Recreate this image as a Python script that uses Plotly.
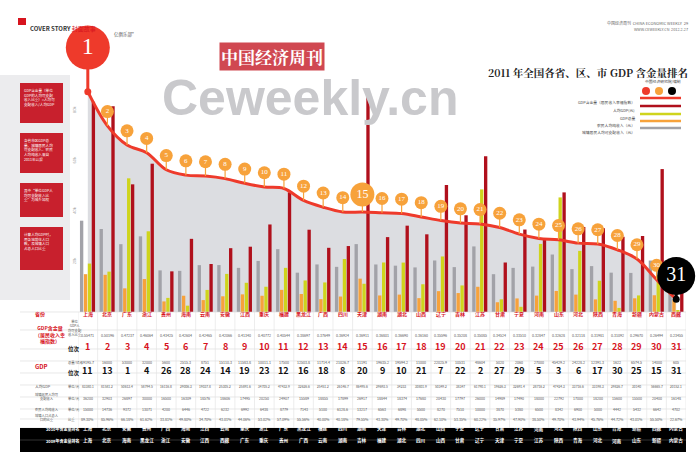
import plotly.graph_objects as go

provinces = ["上海","北京","广东","浙江","贵州","海南","云南","安徽","江西","重庆","福建","黑龙江","广西","四川","天津","湖南","湖北","山西","辽宁","吉林","江苏","甘肃","宁夏","河南","山东","河北","陕西","青海","新疆","内蒙古","西藏"]
index_vals = [0.55471,0.50196,0.47237,0.46064,0.43425,0.42604,0.42465,0.42066,0.41340,0.40772,0.40544,0.38697,0.37649,0.36924,0.36911,0.36801,0.36690,0.36160,0.35596,0.35208,0.35085,0.34524,0.33510,0.32847,0.32628,0.32118,0.31981,0.31092,0.29670,0.26494,0.23455]
gdp_total = [19195.7,16000,53000,32000,5600,2515.3,8751,15110.3,11583.8,10011.1,17500,12503.8,11714.4,21026.7,11191,19635.2,19594.2,11000,22025.9,10531,48604,5020,2060,27000,45429.2,24228.2,12391.3,1622,6574.5,14000,605]
gdp_rank = [11,13,1,4,26,28,24,14,19,23,12,16,18,8,20,9,10,21,7,22,2,27,29,5,3,6,17,30,25,15,31]
gdp_pc = [83380.1,81581.17,50613.43,58794.47,16116.75,29006.34,19037.76,25305.24,25891.6,34705.23,47432.91,32626.56,25451.24,26146.69,86495.57,29693.54,34232.96,30801.88,50349.15,38347,61790.06,19626.35,32691.41,28716.2,47424.31,33716.56,33198.28,29826.73,30140.01,56665.66,20152.12]
urban_inc = [36200,32903,26897,30000,16500,16309,18576,18606,17495,20250,24907,15589,18855,17899,26917,18844,18374,17680,20430,17797,26000,14989,17490,18000,22792,17000,18200,15600,15500,20400,16148]
rural_inc = [15000,14736,9372,13071,4200,6446,4722,6232,6992,6438,8779,7143,5100,6128.6,13217,6563,6898,5500,8270,7510,10000,3870,5380,6500,8342,6900,5000,4442,5432,6642,4702]
urban_ratio = ["89.30%","85.96%","66.18%","61.62%","33.81%","49.80%","34.70%","43.01%","44.06%","53.02%","57.09%","55.56%","40.00%","40.18%","79.55%","43.30%","49.70%","48.05%","62.10%","53.35%","60.22%","35.97%","47.90%","38.50%","49.70%","43.94%","45.76%","44.72%","43.01%","55.50%","22.67%"]
rank_2010 = ["上海","北京","安徽","贵州","广西","海南","江西","云南","重庆","浙江","广东","黑龙江","福建","四川","湖南","天津","吉林","湖北","山西","宁夏","辽宁","甘肃","江苏","河南","河北","陕西","山东","青海","新疆","西藏","内蒙古"]
rank_2009 = ["上海","北京","海南","黑龙江","浙江","安徽","江西","西藏","广东","重庆","贵州","广西","云南","湖南","吉林","福建","湖北","四川","山西","甘肃","辽宁","天津","宁夏","江苏","陕西","青海","河北","河南","山东","新疆","内蒙古"]
y_ticks = [20000, 40000, 60000, 80000]

W, H = 700, 455
F = "Noto Sans CJK SC"
def py(p):
    return 1 - p / H
def px(p):
    return p / W

n = len(provinces)
xs = list(range(n))
RED, ORANGE, GREEN, GRAY, LINE = "#b0101c", "#f7a23b", "#cfd41c", "#a2a2a8", "#ee3a2b"
# all overlaid axes share domain 10..312 px; ranges scaled so bars reach 85 px at 90000
IDX_RANGE = [0.215, 0.215 + 302 * 0.35 / 227]
BAR_RANGE = [0, 90000 * 302 / 227]

fig = go.Figure()
fig.add_trace(go.Scatter(x=xs, y=index_vals, yaxis="y", mode="lines", line=dict(width=0, shape="spline"),
                         fill="tozeroy", fillcolor="#dcdde1", hoverinfo="skip"))
w = 0.17
for vals, col, off in [(urban_inc, GRAY, -0.40), (rural_inc, ORANGE, -0.20), (gdp_total, GREEN, 0.0), (gdp_pc, RED, 0.20)]:
    fig.add_trace(go.Bar(x=xs, y=vals, marker=dict(color=col, line=dict(width=0)), width=w, offset=off, yaxis="y2"))
fig.add_trace(go.Scatter(x=xs, y=index_vals, yaxis="y3", mode="lines", line=dict(color=LINE, width=3, shape="spline")))

ranks = list(range(1, n + 1))
pin_col = [LINE if r == 1 else ("black" if r == n else ORANGE) for r in ranks]
pin_size = [44 if r == 1 else (38 if r == n else (24 if r == 15 else 13)) for r in ranks]
pin_shift = [0.068 if r == 1 else (0.036 if r == n else (0.027 if r == 15 else 0.022)) for r in ranks]
pin_font = [24 if r == 1 else (20 if r == n else (12 if r == 15 else 7)) for r in ranks]
pin_y = [v + s for v, s in zip(index_vals, pin_shift)]
for i in xs:
    fig.add_trace(go.Scatter(x=[i, i], y=[index_vals[i], pin_y[i]], yaxis="y3", mode="lines",
                             line=dict(color=pin_col[i], width=3 if i in (0, n - 1) else 1.2), cliponaxis=False, hoverinfo="skip"))
fig.add_trace(go.Scatter(x=xs, y=pin_y, yaxis="y3", mode="markers+text", cliponaxis=False,
                         marker=dict(color=pin_col, size=pin_size, opacity=1, line=dict(width=0)),
                         text=[str(r) for r in ranks], textposition="middle center",
                         textfont=dict(color="white", size=pin_font, family="Arial Black")))
fig.add_trace(go.Scatter(x=[0, n - 1], y=[index_vals[0], index_vals[-1]], yaxis="y3", mode="markers", cliponaxis=False,
                         marker=dict(color=[LINE, "black"], size=7)))

ann = []
shapes = []
shapes.append(dict(type="rect", xref="paper", yref="paper", x0=0, x1=px(70), y0=py(300), y1=py(75),
                   fillcolor="#ececee", line=dict(width=0), layer="below"))
boxes = [(83, 123, "GDP含金量（单位<br>GDP的人均可支配<br>收入比重）=人均可<br>支配收入/人均GDP"),
         (133, 173, "各省市区GDP总<br>量、城镇居民人均<br>可支配收入、农民<br>人均纯收入来自<br>2011年公报"),
         (183, 217, "其中“单位GDP人<br>均可支配收入比<br>重”为城乡加权"),
         (227, 270, "计算人均GDP时，<br>用各地常住人口<br>数，及城镇人口<br>占总人口比重")]
for y0, y1, t in boxes:
    shapes.append(dict(type="rect", xref="paper", yref="paper", x0=px(20), x1=px(63), y0=py(y1), y1=py(y0),
                       fillcolor="#c8202d", line=dict(width=0)))
    ann.append(dict(xref="paper", yref="paper", x=px(22), y=py(y0 + 3), text=t, showarrow=False, xanchor="left",
                    yanchor="top", align="left", font=dict(size=3.6, color="white", family=F)))

shapes.append(dict(type="rect", xref="paper", yref="paper", x0=px(18), x1=px(26), y0=py(25), y1=py(18),
                   fillcolor="#d7141e", line=dict(width=0)))
ann += [
    dict(xref="paper", yref="paper", x=px(22), y=py(21.5), text="28", showarrow=False, font=dict(size=4.5, color="white")),
    dict(xref="paper", yref="paper", x=px(28), y=py(21.5), text="<b>COVER STORY</b> <span style='color:#d7141e'>封面故事</span>",
         showarrow=False, xanchor="left", font=dict(size=6, color="#333", family=F)),
    dict(xref="paper", yref="paper", x=px(112), y=py(29), text="亿俱乐部”", showarrow=False, xanchor="left",
         font=dict(size=4.5, color="#555", family=F)),
    dict(xref="paper", yref="paper", x=px(160), y=py(68), text="<b>Ceweekly.cn</b>", showarrow=False, xanchor="left",
         font=dict(size=50, color="#c9c9cc", family="Arial")),
    dict(xref="paper", yref="paper", x=px(272), y=py(42), text="<b>中国经济周刊</b>", showarrow=False,
         bgcolor="rgba(200,40,50,0.85)", font=dict(size=17, color="white", family="Noto Serif CJK SC, " + F)),
    dict(xref="paper", yref="paper", x=px(690), y=py(18), text="中国经济周刊  CHINA ECONOMIC WEEKLY  29",
         showarrow=False, xanchor="right", font=dict(size=4, color="#666", family=F)),
    dict(xref="paper", yref="paper", x=px(690), y=py(25), text="WWW.CEWEEKLY.CN  2012.2.27", showarrow=False,
         xanchor="right", font=dict(size=3.8, color="#666", family=F)),
    dict(xref="paper", yref="paper", x=px(690), y=py(63), text="<b>2011 年全国各省、区、市 GDP 含金量排名</b>",
         showarrow=False, xanchor="right", font=dict(size=10.5, color="#222", family="Noto Serif CJK SC, DejaVu Serif")),
    dict(xref="paper", yref="paper", x=px(683), y=py(77), text="中国经济研究院/编制", showarrow=False,
         xanchor="right", font=dict(size=3.8, color="#444", family=F)),
]
leg = [(98, LINE, "GDP含金量（居民收入幸福指数）"), (106, RED, "人均GDP(元)"), (114, GREEN, "GDP总量"),
       (121, ORANGE, "农民人均纯收入（元）"), (128, GRAY, "城镇居民人均可支配收入（元）")]
for yy, c, t in leg:
    shapes.append(dict(type="line", xref="paper", yref="paper", x0=px(640), x1=px(681),
                       y0=py(yy), y1=py(yy), line=dict(color=c, width=2.5)))
    ann.append(dict(xref="paper", yref="paper", x=px(637), y=py(yy), text=t, showarrow=False, xanchor="right",
                    font=dict(size=3.8, color="#444", family=F)))
for xx, c in [(646, LINE), (659, ORANGE), (672, "black")]:
    shapes.append(dict(type="circle", xref="paper", yref="paper", x0=px(xx - 4), x1=px(xx + 4), y0=py(95), y1=py(87),
                       fillcolor=c, line=dict(width=0)))

rows_y = {"prov": 320, "idx": 340, "idxr": 355, "gdp": 367, "gdpr": 379, "pc": 391, "urb": 403, "rur": 414, "ratio": 424}
for yy in [312, 330, 349, 361, 373, 385, 397, 409, 419, 428]:
    shapes.append(dict(type="line", xref="paper", yref="paper", x0=px(20), x1=px(686), y0=py(yy), y1=py(yy),
                       line=dict(color="#d8d8d8", width=0.6)))
for i in range(n + 1):
    shapes.append(dict(type="line", xref="x", yref="paper", x0=i - 0.5, x1=i - 0.5, y0=py(428), y1=py(312),
                       line=dict(color="#e0e0e0", width=0.6)))
shapes.append(dict(type="rect", xref="paper", yref="paper", x0=px(20), x1=px(686), y0=py(452), y1=py(428),
                   fillcolor="black", line=dict(width=0)))
shapes.append(dict(type="line", xref="paper", yref="paper", x0=px(20), x1=px(686), y0=py(440), y1=py(440),
                   line=dict(color="#555", width=0.6)))

def cell(i, yy, t, size=3.6, color="#555", bold=False):
    ann.append(dict(xref="x", yref="paper", x=i, y=py(yy), text=f"<b>{t}</b>" if bold else t, showarrow=False,
                    font=dict(size=size, color=color, family=F)))
for i in range(n):
    cell(i, rows_y["prov"], provinces[i], 5, "#d7141e", True)
    cell(i, rows_y["idx"], f"{index_vals[i]:.5f}", 3.6)
    cell(i, rows_y["idxr"], str(i + 1), 9, "#d7141e", True)
    cell(i, rows_y["gdp"], f"{gdp_total[i]:g}", 3.6)
    cell(i, rows_y["gdpr"], str(gdp_rank[i]), 9, "#111", True)
    cell(i, rows_y["pc"], f"{gdp_pc[i]:g}", 3.3)
    cell(i, rows_y["urb"], f"{urban_inc[i]:g}", 3.6)
    cell(i, rows_y["rur"], f"{rural_inc[i]:g}", 3.6)
    cell(i, rows_y["ratio"], urban_ratio[i], 3.6)
    cell(i, 434, rank_2010[i], 4.6, "white", True)
    cell(i, 446, rank_2009[i], 4.6, "white", True)

def lab(x, yy, t, size=4, color="#555", bold=False):
    ann.append(dict(xref="paper", yref="paper", x=px(x), y=py(yy), text=f"<b>{t}</b>" if bold else t,
                    showarrow=False, font=dict(size=size, color=color, family=F)))
lab(33, 320, "省份", 5, "#d7141e", True)
lab(33, 347, "GDP含金量<br>（居民收入幸<br>福指数）", 5, "#d7141e", True)
lab(66, 339, "单位<br>GDP人<br>均可支配<br>收入比重", 3.3)
lab(66, 355, "位次", 5.5, "#111", True)
lab(33, 373, "GDP", 6, "#d7141e", True)
lab(66, 367, "总量/亿元", 3.3)
lab(66, 379, "位次", 5.5, "#111", True)
lab(33, 391, "人均GDP", 3.8)
lab(33, 403, "城镇居民人均可<br>支配收入", 3.3)
lab(33, 414, "农民人均纯收入", 3.3)
lab(33, 424, "城镇人口占总人<br>口的比重", 3.3)
for yy, t in [(391, "单位/元"), (403, "单位/元"), (414, "单位/元"), (424, "比重")]:
    lab(66, yy, t, 3.3)
lab(44, 434, "2010年含金量排名", 4, "white", True)
lab(44, 446, "2009年含金量排名", 4, "white", True)

fig.update_layout(
    width=W, height=H, margin=dict(l=0, r=0, t=0, b=0), paper_bgcolor="white", plot_bgcolor="rgba(0,0,0,0)",
    showlegend=False, barmode="overlay", annotations=ann, shapes=shapes,
    xaxis=dict(domain=[px(78), px(686)], range=[-0.5, n - 0.5], showticklabels=False, showgrid=False, zeroline=False),
    yaxis=dict(domain=[py(312), py(10)], range=IDX_RANGE, visible=False),
    yaxis2=dict(overlaying="y", range=BAR_RANGE, tickvals=y_ticks, ticks="", showgrid=False,
                zeroline=False, side="left", tickfont=dict(size=4, color="#999"), tickangle=-90),
    yaxis3=dict(overlaying="y", range=IDX_RANGE, visible=False),
)
fig.write_html("out.html", post_script="document.body.style.margin='0';",
               config={"displayModeBar": False})
